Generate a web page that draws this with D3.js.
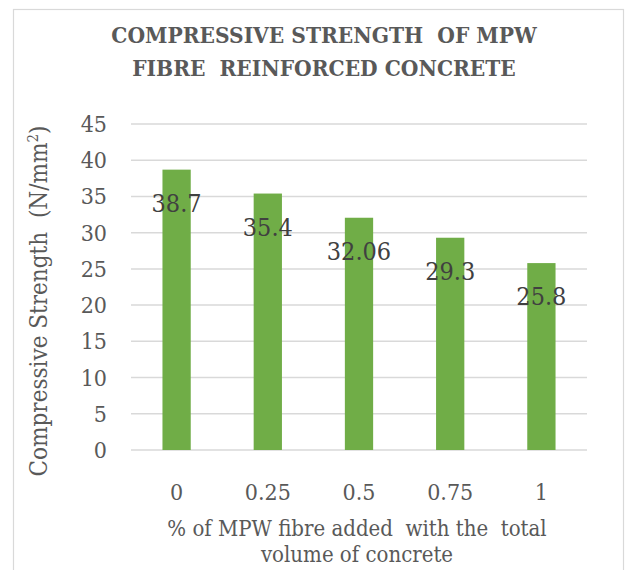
<!DOCTYPE html>
<html>
<head>
<meta charset="utf-8">
<script src="https://cdn.jsdelivr.net/npm/d3@7"></script>
<style>
  html, body { margin: 0; padding: 0; background: #fff; }
  svg { display: block; }
  text { font-family: "DejaVu Serif Condensed", "DejaVu Serif", serif; }
</style>
</head>
<body>
<svg id="chart" width="625" height="570"></svg>
<script>
// Fibre dosage (% by volume) and the resulting compressive strength
const fibreContent = ["0", "0.25", "0.5", "0.75", "1"];
const strength = [38.7, 35.4, 32.06, 29.3, 25.8];
const yTicks = [0, 5, 10, 15, 20, 25, 30, 35, 40, 45];
const titleLines = ["COMPRESSIVE STRENGTH  OF MPW", "FIBRE  REINFORCED CONCRETE"];
const xTitleLines = ["% of MPW fibre added  with the  total", "volume of concrete"];

const svg = d3.select("#chart");

// outer chart frame
svg.append("rect")
  .attr("x", 13.5).attr("y", 9.5)
  .attr("width", 610).attr("height", 580)
  .attr("fill", "none").attr("stroke", "#d9d9d9").attr("stroke-width", 1.2);

const plot = { left: 131, right: 587, top: 124, bottom: 450 };

const x = d3.scaleBand()
  .domain(fibreContent)
  .range([plot.left, plot.right])
  .paddingInner(0.69)
  .paddingOuter(0.345);

const y = d3.scaleLinear()
  .domain([0, 45])
  .range([plot.bottom, plot.top]);

// horizontal gridlines
svg.append("g")
  .selectAll("line")
  .data(yTicks)
  .join("line")
  .attr("x1", plot.left).attr("x2", plot.right)
  .attr("y1", d => y(d)).attr("y2", d => y(d))
  .attr("stroke", "#d9d9d9").attr("stroke-width", 1.5);

// y tick labels
svg.append("g")
  .selectAll("text")
  .data(yTicks)
  .join("text")
  .attr("x", 107)
  .attr("y", d => y(d))
  .attr("dy", "0.35em")
  .attr("text-anchor", "end")
  .attr("font-size", 23)
  .attr("fill", "#595959")
  .text(d => d);

// bars
svg.append("g")
  .selectAll("rect")
  .data(strength)
  .join("rect")
  .attr("x", (d, i) => x(fibreContent[i]))
  .attr("y", d => y(d))
  .attr("width", x.bandwidth())
  .attr("height", d => y(0) - y(d))
  .attr("fill", "#70ad47");

// value labels at the inside end of each bar
svg.append("g")
  .selectAll("text")
  .data(strength)
  .join("text")
  .attr("x", (d, i) => x(fibreContent[i]) + x.bandwidth() / 2)
  .attr("y", d => y(d) + 42)
  .attr("text-anchor", "middle")
  .attr("font-size", 25)
  .attr("fill", "#404040")
  .text(d => d);

// x tick labels
svg.append("g")
  .selectAll("text")
  .data(fibreContent)
  .join("text")
  .attr("x", d => x(d) + x.bandwidth() / 2)
  .attr("y", 500)
  .attr("text-anchor", "middle")
  .attr("font-size", 23)
  .attr("fill", "#595959")
  .text(d => d);

// x axis title
svg.append("g")
  .selectAll("text")
  .data(xTitleLines)
  .join("text")
  .attr("x", 357)
  .attr("y", (d, i) => 536 + i * 26)
  .attr("text-anchor", "middle")
  .attr("font-size", 22)
  .attr("fill", "#595959")
  .style("white-space", "pre")
  .text(d => d);

// y axis title with superscript
const yTitle = svg.append("text")
  .attr("transform", "translate(47,301) rotate(-90)")
  .attr("text-anchor", "middle")
  .attr("font-size", 24)
  .attr("fill", "#595959")
  .style("white-space", "pre");
yTitle.append("tspan").text("Compressive Strength  (N/mm");
yTitle.append("tspan").attr("baseline-shift", "super").attr("font-size", 15).text("2");
yTitle.append("tspan").text(")");

// chart title
svg.append("g")
  .selectAll("text")
  .data(titleLines)
  .join("text")
  .attr("x", 324)
  .attr("y", (d, i) => 43 + i * 32.5)
  .attr("text-anchor", "middle")
  .attr("font-size", 22.5)
  .attr("font-weight", "bold")
  .attr("fill", "#595959")
  .style("white-space", "pre")
  .text(d => d);
</script>
</body>
</html>
